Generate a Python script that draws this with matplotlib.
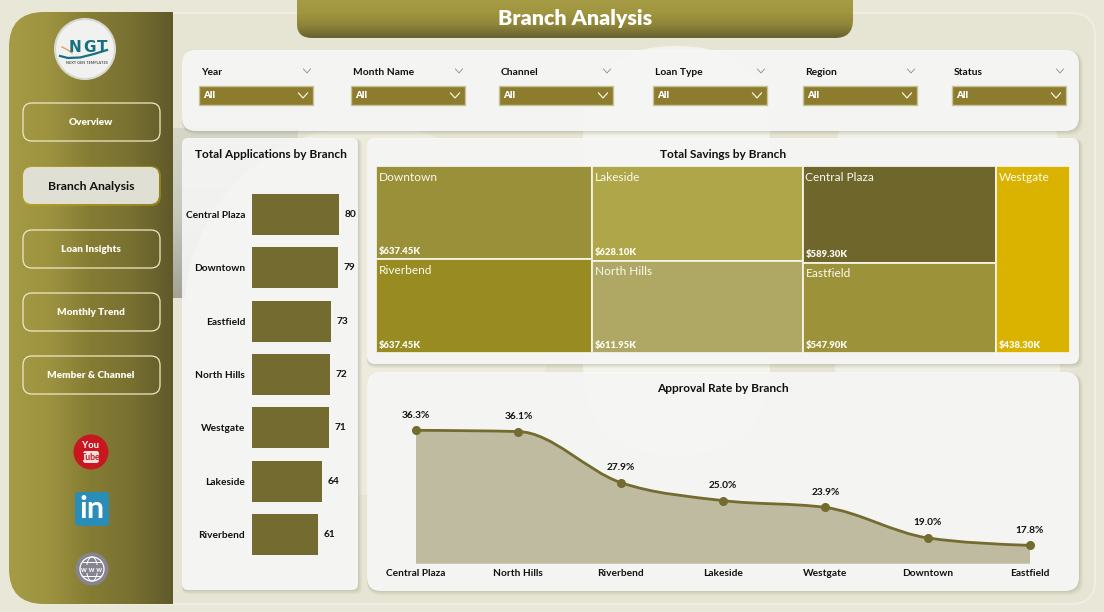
import numpy as np
import matplotlib
matplotlib.use("Agg")
from matplotlib import pyplot as plt
from matplotlib.colors import LinearSegmentedColormap
from matplotlib.patches import Circle, Ellipse, FancyBboxPatch, PathPatch, Rectangle
from matplotlib.path import Path

plt.rcParams["font.family"] = ["Lato", "DejaVu Sans"]

W, H = 1104, 612

# data
app_branches = ["Central Plaza", "Downtown", "Eastfield", "North Hills", "Westgate", "Lakeside", "Riverbend"]
app_values = [80, 79, 73, 72, 71, 64, 61]

savings_columns = [["Downtown", "Riverbend"], ["Lakeside", "North Hills"], ["Central Plaza", "Eastfield"], ["Westgate"]]
savings_values = {"Downtown": 637.45, "Riverbend": 637.45, "Lakeside": 628.10, "North Hills": 611.95,
                  "Central Plaza": 589.30, "Eastfield": 547.90, "Westgate": 438.30}
savings_colors = {"Downtown": "#9a9039", "Riverbend": "#988b22", "Lakeside": "#aea648", "North Hills": "#aea864",
                  "Central Plaza": "#6f662b", "Eastfield": "#9b923a", "Westgate": "#d9b300"}

rate_branches = ["Central Plaza", "North Hills", "Riverbend", "Lakeside", "Westgate", "Downtown", "Eastfield"]
rate_values = [36.3, 36.1, 27.9, 25.0, 23.9, 19.0, 17.8]

slicer_names = ["Year", "Month Name", "Channel", "Loan Type", "Region", "Status"]
nav_items = ["Overview", "Branch Analysis", "Loan Insights", "Monthly Trend", "Member & Channel"]

OLIVE = "#736b2f"
TEXT = "#111111"


def px_axes(fig, x0, y0, x1, y1):
    a = fig.add_axes([x0 / W, 1 - y1 / H, (x1 - x0) / W, (y1 - y0) / H])
    a.patch.set_alpha(0)
    for s in a.spines.values():
        s.set_visible(False)
    return a


def rbox(ax, x0, y0, x1, y1, r, **kw):
    p = FancyBboxPatch((x0 + r, y0 + r), x1 - x0 - 2 * r, y1 - y0 - 2 * r,
                       boxstyle=f"round,pad={r},rounding_size={r}", **kw)
    ax.add_patch(p)
    return p


def gradient(ax, clip, extent, stops, vertical=False, zorder=2):
    cmap = LinearSegmentedColormap.from_list("g", stops)
    g = np.linspace(0, 1, 256)
    g = g.reshape(-1, 1) if vertical else g.reshape(1, -1)
    im = ax.imshow(g, cmap=cmap, extent=extent, aspect="auto", zorder=zorder, interpolation="bilinear")
    if clip is not None:
        im.set_clip_path(clip)


def card(ax, x0, y0, x1, y1, r):
    for i, a in ((4, 0.05), (2.5, 0.07), (1.2, 0.08)):
        rbox(ax, x0, y0 + 1, x1 + i, y1 + i, r, fc="#55553a", ec="none", alpha=a, zorder=3)
    rbox(ax, x0, y0, x1, y1, r, fc="#f9f9f9", ec="none", alpha=0.9, zorder=4)


def chevron(ax, x, y, w, h, color, lw):
    ax.plot([x - w, x, x + w], [y - h, y + h, y - h], color=color, lw=lw, zorder=7,
            solid_joinstyle="miter")


def monotone_path(xs, ys):
    # same tangents as a monotone-x smoothed line
    xs = np.asarray(xs, float)
    ys = np.asarray(ys, float)
    dx = np.diff(xs)
    sl = np.diff(ys) / dx
    t = np.zeros(len(xs))
    for i in range(1, len(xs) - 1):
        p = (sl[i - 1] * dx[i] + sl[i] * dx[i - 1]) / (dx[i - 1] + dx[i])
        t[i] = (np.sign(sl[i - 1]) + np.sign(sl[i])) * min(abs(sl[i - 1]), abs(sl[i]), 0.5 * abs(p))
    t[0] = (3 * sl[0] - t[1]) / 2
    t[-1] = (3 * sl[-1] - t[-2]) / 2
    verts = [(xs[0], ys[0])]
    codes = [Path.MOVETO]
    for i in range(len(xs) - 1):
        h = dx[i] / 3
        verts += [(xs[i] + h, ys[i] + t[i] * h), (xs[i + 1] - h, ys[i + 1] - t[i + 1] * h), (xs[i + 1], ys[i + 1])]
        codes += [Path.CURVE4] * 3
    return verts, codes


fig = plt.figure(figsize=(W / 100, H / 100), dpi=100, facecolor="#e9e8d8")
bg = fig.add_axes([0, 0, 1, 1])
bg.set_xlim(0, W)
bg.set_ylim(H, 0)
bg.axis("off")

# page background
rbox(bg, 60, 13, 1095, 604, 24, fc="#e6e5d4", ec="#eeeee2", lw=1.5, zorder=1)
grey = Rectangle((173, 128), 125, 170, fc="none", ec="none")
bg.add_patch(grey)
gradient(bg, grey, (173, 298, 298, 128), ["#d6d6c9", "#c8c8bc", "#a2a297"], vertical=True, zorder=1.2)
bg.add_patch(Circle((370, 310), 185, fc="#ecebdc", ec="none", zorder=1.3))
rbox(bg, 583, 46, 770, 455, 93, fc="#ffffff", alpha=0.55, ec="none", zorder=1.5)
rbox(bg, 835, 66, 1060, 470, 100, fc="#ffffff", alpha=0.4, ec="none", zorder=1.5)

# sidebar
side_verts = [(173, 12), (44, 12), (9, 12), (9, 47), (9, 569), (9, 604), (44, 604), (173, 604), (173, 12)]
side_codes = [Path.MOVETO, Path.LINETO, Path.CURVE3, Path.CURVE3, Path.LINETO, Path.CURVE3, Path.CURVE3,
              Path.LINETO, Path.CLOSEPOLY]
side = PathPatch(Path(side_verts, side_codes), fc="none", ec="none", zorder=2)
bg.add_patch(side)
gradient(bg, side, (9, 173, 604, 12), ["#a69c46", "#9c923f", "#857c34", "#787031", "#5f592a"])

# title tab
tab_verts = [(297, 0), (853, 0), (853, 20), (853, 38), (835, 38), (312, 38), (297, 38), (297, 24), (297, 0)]
tab_codes = [Path.MOVETO, Path.LINETO, Path.LINETO, Path.CURVE3, Path.CURVE3, Path.LINETO, Path.CURVE3,
             Path.CURVE3, Path.CLOSEPOLY]
tab = PathPatch(Path(tab_verts, tab_codes), fc="none", ec="none", zorder=2)
bg.add_patch(tab)
gradient(bg, tab, (297, 853, 38, 0), ["#a69c46", "#a0963f", "#8e8438", "#666030"], vertical=True)
bg.text(575, 19, "Branch Analysis", color="white", fontsize=15.4, fontweight="heavy", ha="center", va="center", zorder=7)

# logo
bg.add_patch(Circle((85, 49), 30, fc="#f1f1ef", ec="#d8d8d2", lw=1.5, zorder=5))
for letter, lx in zip("NGT", (75, 89, 102)):
    bg.text(lx, 47, letter, color="#17707f", fontsize=11, fontweight="bold", family="DejaVu Sans",
            ha="center", va="center", zorder=7)
bg.plot([60, 68, 80, 94, 107], [56, 58, 57.5, 54, 50], color="#17707f", lw=1.6, zorder=6)
bg.plot([62, 68, 72], [47, 50, 53], color="#d9a566", lw=1, zorder=6)
bg.text(87, 63, "NEXT GEN TEMPLATES", color="#555555", fontsize=2.8, fontweight="bold", ha="center", va="center", zorder=7)

# nav buttons
nav_y = [(103, 141), (167, 204), (230, 268), (293, 331), (356, 394)]
for name, (y0, y1) in zip(nav_items, nav_y):
    if name == "Branch Analysis":
        rbox(bg, 22, y0 - 1, 161, y1 + 2, 10, fc="#c5a90e", ec="none", alpha=0.45, zorder=5)
        rbox(bg, 23, y0, 159, y1, 9, fc="#dfdfd3", ec="none", zorder=6)
        bg.text(91, (y0 + y1) / 2 + 0.5, name, color=TEXT, fontsize=8.8, fontweight="bold", ha="center", va="center", zorder=7)
    else:
        rbox(bg, 23, y0, 160, y1, 9, fc="none", ec="#eee9c8", lw=0.9, zorder=6)
        bg.text(91, (y0 + y1) / 2 + 0.5, name, color="#fbfbf2", fontsize=7.2, fontweight="heavy", ha="center", va="center", zorder=7)

# social icons
bg.add_patch(Circle((91, 452), 17.5, fc="#c8171f", ec="none", zorder=5))
bg.text(91, 445, "You", color="white", fontsize=6.8, fontweight="bold", family=["Liberation Sans Narrow", "Lato"],
        ha="center", va="center", zorder=7)
rbox(bg, 83, 451, 99, 463, 2.5, fc="#f3dfe0", ec="none", zorder=6)
bg.text(91, 457, "Tube", color="#c8171f", fontsize=6.3, fontweight="bold", family=["Liberation Sans Narrow", "Lato"],
        ha="center", va="center", zorder=7)
rbox(bg, 75, 492, 109, 526, 4, fc="#2a8db8", ec="none", zorder=5)
bg.text(92, 509, "in", color="white", fontsize=22, fontweight="bold", ha="center", va="center", zorder=7)
bg.add_patch(Circle((92, 569), 16.5, fc="#858490", ec="none", zorder=5))
bg.add_patch(Circle((92, 569), 12, fc="none", ec="white", lw=0.9, zorder=6))
for dy in (-7, 7):
    bg.plot([83, 101], [569 + dy, 569 + dy], color="white", lw=0.7, zorder=6)
bg.add_patch(Ellipse((92, 569), 11, 24, fc="none", ec="white", lw=0.7, zorder=6))
bg.text(92, 569, "w w w", color="white", fontsize=5.2, fontweight="bold", ha="center", va="center", zorder=7,
        bbox=dict(fc="#858490", ec="none", pad=0.4))

# cards
card(bg, 182, 50, 1079, 131, 14)
card(bg, 182, 138, 358, 590, 6)
card(bg, 367, 138, 1079, 364, 8)
card(bg, 367, 372, 1079, 591, 14)

# slicers
slicer_x = [199, 351, 499, 653, 803, 952]
for name, x in zip(slicer_names, slicer_x):
    bg.text(x + 2, 72.5, name, color=TEXT, fontsize=7.4, fontweight="bold", ha="left", va="center", zorder=7)
    chevron(bg, x + 108, 71, 3.5, 2, "#8a8a8a", 0.6)
    bg.add_patch(Rectangle((x, 86), 114, 19, fc="#8d7c2e", ec="#c9c296", lw=1, zorder=6))
    bg.text(x + 4, 96, "All", color="white", fontsize=7, fontweight="heavy", ha="left", va="center", zorder=7)
    chevron(bg, x + 104, 95.5, 4.5, 2.5, "#f4f2e0", 0.9)

# bar chart
bg.text(270.5, 155, "Total Applications by Branch", color=TEXT, fontsize=8.6, fontweight="bold", ha="center", va="center", zorder=7)
ax1 = px_axes(fig, 252, 188, 359, 561)
ypos = np.arange(len(app_branches))
ax1.barh(ypos, app_values, height=0.77, color=OLIVE)
ax1.set_ylim(len(app_branches) - 0.5, -0.5)
ax1.set_xlim(0, 107 / (87 / 80))
ax1.set_xticks([])
ax1.set_yticks(ypos, app_branches, fontsize=7.3, fontweight="bold", color=TEXT)
ax1.tick_params(axis="y", length=0, pad=5)
for y, v in zip(ypos, app_values):
    ax1.annotate(str(v), (v, y), xytext=(4, 0), textcoords="offset points", va="center",
                 fontsize=7.3, fontweight="bold", color=TEXT, annotation_clip=False)

# treemap
bg.text(723, 155, "Total Savings by Branch", color=TEXT, fontsize=8.6, fontweight="bold", ha="center", va="center", zorder=7)
ax2 = px_axes(fig, 376, 166, 1070, 353)
total = sum(savings_values.values())
ax2.set_xlim(0, total)
ax2.set_ylim(1, 0)
ax2.set_xticks([])
ax2.set_yticks([])
left = 0
for col in savings_columns:
    col_sum = sum(savings_values[b] for b in col)
    top = 0
    for b in col:
        frac = savings_values[b] / col_sum
        ax2.bar(left, frac, width=col_sum, bottom=top, align="edge", color=savings_colors[b],
                edgecolor="#f4f3e6", linewidth=1.3)
        ax2.annotate(b, (left, top), xytext=(2, -4), textcoords="offset points", color="#fbfbf0",
                     fontsize=8.6, ha="left", va="top")
        ax2.annotate(f"${savings_values[b]:.2f}K", (left, top + frac), xytext=(2, 2.5), textcoords="offset points",
                     color="#fbfbf0", fontsize=6.8, fontweight="heavy", ha="left", va="bottom")
        top += frac
    left += col_sum

# area chart
bg.text(723, 388, "Approval Rate by Branch", color=TEXT, fontsize=8.6, fontweight="bold", ha="center", va="center", zorder=7)
ax3 = px_axes(fig, 391, 405, 1055, 563.7)
xpos = np.arange(len(rate_branches))
per_x = 614 / (len(rate_branches) - 1)
ax3.set_xlim(-25 / per_x, 6 + 25 / per_x)
ax3.set_ylim(36.3 - (563.7 - 430.3) / 6.22, 36.3 + (430.3 - 405) / 6.22)
verts, codes = monotone_path(xpos, rate_values)
base = ax3.get_ylim()[0]
ax3.add_patch(PathPatch(Path(verts + [(xpos[-1], base), (xpos[0], base), (xpos[0], rate_values[0])],
                             codes + [Path.LINETO, Path.LINETO, Path.CLOSEPOLY]),
                        fc="#bfbba0", ec="none", zorder=2))
ax3.add_patch(PathPatch(Path(verts, codes), fc="none", ec=OLIVE, lw=2, zorder=3, clip_on=False))
ax3.plot(xpos, rate_values, "o", color=OLIVE, ms=5.5, zorder=4, clip_on=False)
for x, v in zip(xpos, rate_values):
    ax3.annotate(f"{v:.1f}%", (x, v), xytext=(0, 7.5), textcoords="offset points", ha="center", va="bottom",
                 fontsize=7.3, fontweight="bold", color=TEXT)
ax3.set_xticks(xpos, rate_branches, fontsize=7.3, fontweight="bold", color=TEXT)
ax3.set_yticks([])
ax3.tick_params(axis="x", length=0, pad=3.5)

fig.savefig("out.png", dpi=100, facecolor=fig.get_facecolor())
